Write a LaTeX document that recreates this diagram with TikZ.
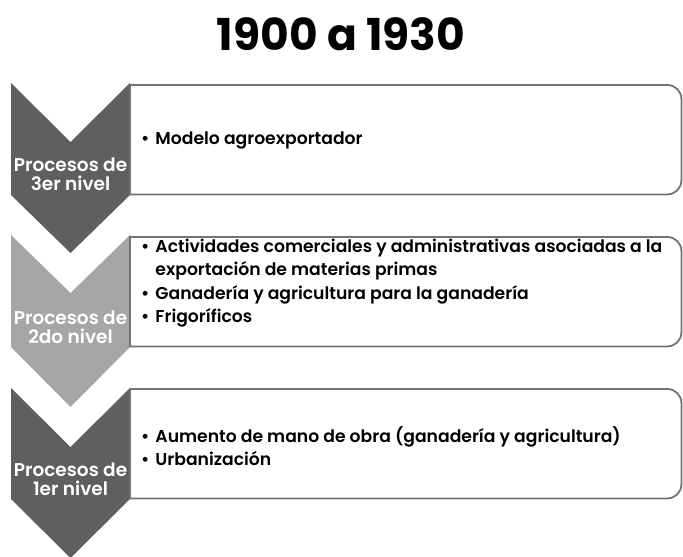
\documentclass[tikz,border=0pt]{standalone}
\usepackage{fontspec}
\setmainfont{Poppins}
\newfontfamily\semibold{Poppins SemiBold}
\usetikzlibrary{positioning}
\definecolor{chevdark}{HTML}{5F5F5F}
\definecolor{chevlight}{HTML}{A6A6A6}
\definecolor{boxline}{HTML}{727272}
\newcommand{\itm}{\textbullet\hspace{6pt}}
\newcommand{\itmgap}{\hphantom{\textbullet}\hspace{6pt}}

\begin{document}
\begin{tikzpicture}[x=1pt,y=-1pt,
	procbox/.style={minimum width=551pt,minimum height=109pt,inner sep=0pt,anchor=north west},
	frame/.style={draw=boxline,line width=1.8pt},
	proclabel/.style={text=white,align=center,font=\semibold\fontsize{18.5}{19}\selectfont},
	items/.style={anchor=west,align=left,inner sep=0pt,font=\semibold\fontsize{17.2}{23.5}\selectfont}]
	\useasboundingbox (0,0) rectangle (683,557);
	\node (title) at (341,34) {\bfseries\fontsize{44}{48}\selectfont 1900 a 1930};
	% chevrons
	\fill[chevdark]  (11,83)  -- (70.5,142) -- (130,83)  -- (130,195) -- (70.5,253) -- (11,195) -- cycle;
	\fill[chevlight] (11,235) -- (70.5,293) -- (130,235) -- (130,347) -- (70.5,407) -- (11,347) -- cycle;
	\fill[chevdark]  (11,388) -- (70.5,447) -- (130,388) -- (130,499) -- (70.5,558) -- (11,499) -- cycle;
	\node[proclabel] (lab3) at (70.5,174) {Procesos de\\3er nivel};
	\node[proclabel] (lab2) at (70.5,327) {Procesos de\\2do nivel};
	\node[proclabel] (lab1) at (70.5,479) {Procesos de\\1er nivel};
	% boxes
	\node[procbox] (box3) at (130,85) {};
	\node[procbox] (box2) at (130,237) {};
	\node[procbox] (box1) at (130,389) {};
	\draw[frame] (box3.north west) [rounded corners=14pt] -- (box3.north east) -- (box3.south east) [sharp corners] -- (box3.south west) -- cycle;
	\draw[frame] (box2.north west) [rounded corners=14pt] -- (box2.north east) -- (box2.south east) [sharp corners] -- (box2.south west) -- cycle;
	\draw[frame] (box1.north west) [rounded corners=14pt] -- (box1.north east) -- (box1.south east) [sharp corners] -- (box1.south west) -- cycle;
	\node[items] (txt3) at (141,140) {\itm Modelo agroexportador};
	\node[items] (txt2) at (141,283) {\itm Actividades comerciales y administrativas asociadas a la\\
		\itmgap exportación de materias primas\\
		\itm Ganadería y agricultura para la ganadería\\
		\itm Frigoríficos};
	\node[items] (txt1) at (141,446) {\itm Aumento de mano de obra (ganadería y agricultura)\\
		\itm Urbanización};
\end{tikzpicture}
\end{document}
